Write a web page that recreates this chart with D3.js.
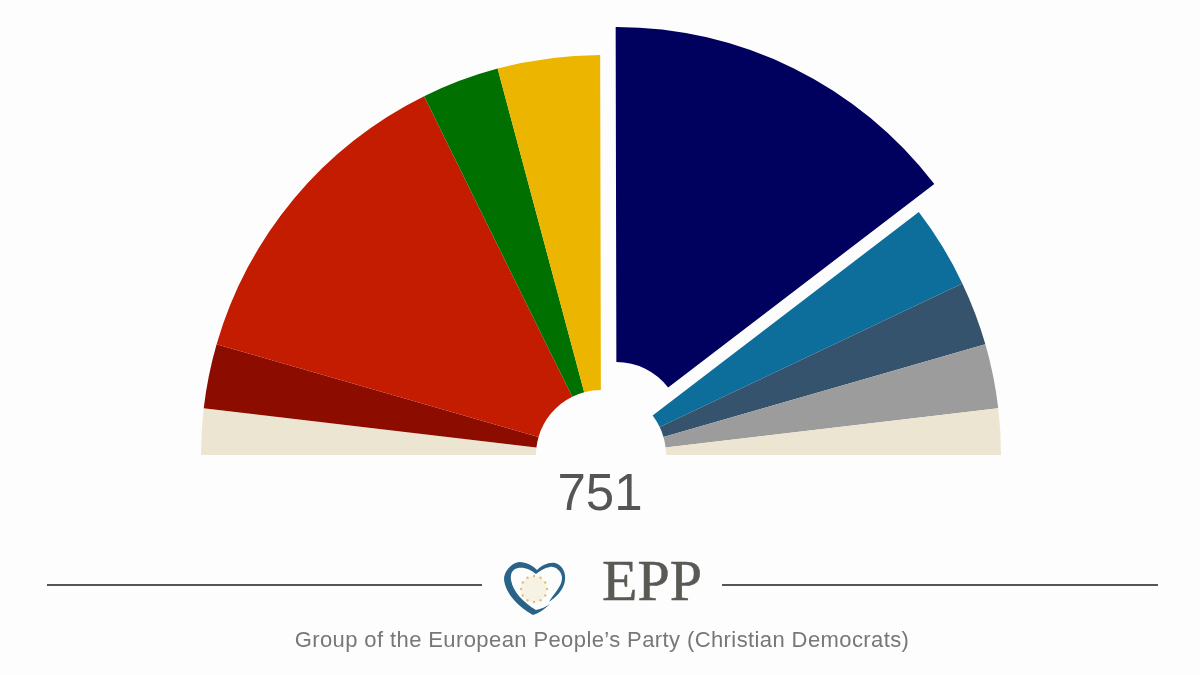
<!DOCTYPE html>
<html><head><meta charset="utf-8">
<script src="https://cdnjs.cloudflare.com/ajax/libs/d3/7.8.5/d3.min.js"></script>
<style>html,body{margin:0;padding:0;background:#fdfdfd;}svg{display:block;}</style>
</head><body><svg id="c" width="1200" height="675"></svg>
<script>
const groups = ["Other (left)","GUE/NGL","S&D","Greens/EFA","ALDE","EPP","ECR","EFD","NI","Other (right)"];
const seats = [28,39,199,47,62,220,50,39,39,28];
const colours = ["#ebe5d1","#8c0a00","#c31a00","#067000","#ecb500","#00065f","#0b6e9c","#34536d","#9c9c9c","#ebe5d1"];
const highlighted = "EPP";
const totalLabel = "751";
const groupShort = "EPP";
const groupLong = "Group of the European People\u2019s Party (Christian Democrats)";

const svg = d3.select("#c");
const defs = svg.append("defs");
defs.append("filter").attr("id","soft").append("feGaussianBlur").attr("stdDeviation",0.6);
const root = svg.append("g").attr("filter","url(#soft)");

const cx = 601, cy = 455, R = 400, r = 65, pullX = 15.5, pullY = -28;
const pie = d3.pie().value((d,i)=>seats[i]).sort(null).startAngle(-Math.PI/2).endAngle(Math.PI/2);
const arc = d3.arc().innerRadius(r).outerRadius(R);
const slices = pie(groups);

root.append("g").attr("transform",`translate(${cx},${cy})`)
  .selectAll("path").data(slices).join("path")
  .attr("d",arc)
  .attr("fill",(d,i)=>colours[i])
  .attr("transform",d=>d.data===highlighted ? `translate(${pullX},${pullY})` : null);

root.append("text").attr("x",600).attr("y",510).attr("text-anchor","middle")
  .attr("font-family","Liberation Sans").attr("font-size",51).attr("fill","#555")
  .text(totalLabel);

root.append("g").attr("stroke","#555").attr("stroke-width",2)
  .selectAll("line").data([[47,482],[722,1158]]).join("line")
  .attr("x1",d=>d[0]).attr("x2",d=>d[1]).attr("y1",585).attr("y2",585);

// logo
const logo = root.append("g");
logo.append("circle").attr("cx",534).attr("cy",589).attr("r",13).attr("fill","#f8f2e4");
logo.selectAll("circle.s").data(d3.range(12)).join("circle").attr("class","s")
  .attr("cx",d=>534+13*Math.cos(d*Math.PI/6)).attr("cy",d=>589+13*Math.sin(d*Math.PI/6))
  .attr("r",1.2).attr("fill","#dcbf78");
logo.append("path").attr("fill","#2a6488")
  .attr("d","M533 615 C520 608 505 594 504 579 C504 572 511 563 519 562 C527 562 533 566 537 570 C542 565 549 562 555 563 C562 565 566 572 565 580 C564 590 556 597 549 602 C553 594 562 587 562 578 C562 571 555 566 550 567 C544 568 540 571 536 574 C531 570 525 567 518 568 C513 569 510 573 511 580 C513 592 524 603 536 610 C541 609 546 607 550 604 C545 609 539 613 533 615 Z");

root.append("text").attr("x",602).attr("y",600)
  .attr("font-family","Liberation Serif").attr("font-size",58).attr("fill","#5a5a55")
  .attr("stroke","#5a5a55").attr("stroke-width",0.5)
  .text(groupShort);

root.append("text").attr("x",602).attr("y",647).attr("text-anchor","middle")
  .attr("font-family","Liberation Sans").attr("font-size",22).attr("letter-spacing",0.4).attr("fill","#777")
  .text(groupLong);
</script></body></html>
